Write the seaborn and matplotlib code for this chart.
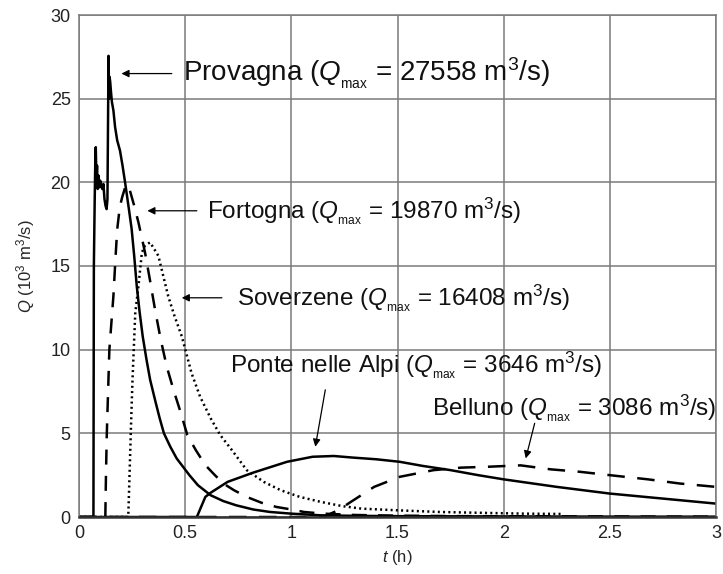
import numpy as np
import pandas as pd
import matplotlib
matplotlib.use("Agg")
import matplotlib.pyplot as plt
import seaborn as sns

# ---- data ----
t_prov = [0, 0.068, 0.070, 0.074, 0.077, 0.079, 0.082, 0.085, 0.088, 0.092, 0.096, 0.100, 0.105,
          0.110, 0.115, 0.120, 0.125, 0.130, 0.134, 0.139, 0.142, 0.144, 0.147, 0.150, 0.155,
          0.162, 0.170, 0.180, 0.193, 0.205, 0.217, 0.235, 0.248, 0.260, 0.272, 0.285, 0.300, 0.318,
          0.335, 0.36, 0.38, 0.40, 0.43, 0.46, 0.49, 0.52, 0.56, 0.62, 0.68, 0.74, 0.82, 0.90,
          1.0, 1.14, 1.3, 1.5, 1.8, 2.2, 2.6, 3.0]
q_prov = [0, 0, 15.0, 19.0, 21.5, 22.1, 20.2, 21.0, 19.6, 20.4, 19.7, 20.1, 19.8,
          19.6, 19.9, 19.0, 18.6, 18.4, 19.0, 27.56, 25.0, 26.3, 26.0, 25.5, 24.8,
          24.3, 23.3, 22.5, 21.9, 21.0, 20.0, 18.4, 17.2, 15.6, 13.8, 12.3, 10.8, 9.4,
          8.2, 6.9, 5.9, 5.0, 4.2, 3.5, 3.0, 2.5, 1.9, 1.3, 0.95, 0.7, 0.45, 0.3,
          0.2, 0.1, 0.07, 0.05, 0.04, 0.03, 0.02, 0.02]

t_fort = [0, 0.124, 0.127, 0.131, 0.143, 0.162, 0.172, 0.180, 0.192, 0.203, 0.215,
          0.225, 0.240, 0.260, 0.280, 0.311, 0.335, 0.358, 0.385, 0.413, 0.445,
          0.48, 0.51, 0.55, 0.595, 0.64, 0.68, 0.73, 0.79, 0.86, 0.93,
          1.0, 1.06, 1.15, 1.3, 1.5, 1.8, 2.2, 2.6, 3.0]
q_fort = [0, 0, 2.5, 5.0, 10.0, 13.2, 15.5, 17.2, 18.5, 19.1, 19.6,
          19.87, 19.5, 18.6, 17.6, 15.8, 14.1, 12.4, 10.6, 9.0, 7.6,
          6.2, 4.9, 4.0, 3.1, 2.5, 2.0, 1.6, 1.2, 0.85, 0.6,
          0.45, 0.3, 0.2, 0.12, 0.08, 0.05, 0.04, 0.03, 0.02]

t_sov = [0, 0.232, 0.238, 0.245, 0.252, 0.265, 0.280, 0.296, 0.310, 0.327, 0.335, 0.350,
         0.374, 0.395, 0.42, 0.45, 0.484, 0.53, 0.57, 0.62, 0.665, 0.72, 0.79, 0.87,
         0.95, 1.04, 1.14, 1.24, 1.33, 1.5, 1.7, 1.89, 2.1, 2.28]
q_sov = [0, 0, 2.5, 5.5, 8.2, 12.2, 13.8, 15.8, 16.2, 16.35, 16.41, 16.1,
         15.6, 14.5, 13.2, 12.0, 10.8, 8.6, 7.2, 5.9, 4.9, 4.0, 2.8, 2.1,
         1.6, 1.2, 0.9, 0.65, 0.5, 0.4, 0.3, 0.25, 0.2, 0.18]

t_ponte = [0, 0.555, 0.575, 0.595, 0.62, 0.70, 0.82, 0.98, 1.10, 1.20, 1.29, 1.40, 1.51,
           1.62, 1.75, 1.88, 2.0, 2.25, 2.5, 2.75, 3.0]
q_ponte = [0, 0, 0.6, 1.2, 1.45, 2.1, 2.65, 3.3, 3.6, 3.646, 3.55, 3.45, 3.3,
           3.05, 2.8, 2.5, 2.25, 1.8, 1.4, 1.1, 0.8]

t_bel = [0, 1.15, 1.22, 1.28, 1.39, 1.51, 1.67, 1.80, 1.92, 2.08, 2.22, 2.36, 2.5, 2.68, 2.83, 3.0]
q_bel = [0, 0, 0.4, 0.9, 1.8, 2.4, 2.8, 2.95, 3.0, 3.086, 2.85, 2.7, 2.5, 2.25, 2.0, 1.8]

x_ticks = [0, 0.5, 1, 1.5, 2, 2.5, 3]
x_tick_labels = ["0", "0.5", "1", "1.5", "2", "2.5", "3"]
y_ticks = [0, 5, 10, 15, 20, 25, 30]

labels = {
    "Provagna": r"Provagna ($Q_{_{\mathrm{max}}}$ = 27558 m$^3$/s)",
    "Fortogna": r"Fortogna ($Q_{_{\mathrm{max}}}$ = 19870 m$^3$/s)",
    "Soverzene": r"Soverzene ($Q_{_{\mathrm{max}}}$ = 16408 m$^3$/s)",
    "Ponte": r"Ponte nelle Alpi ($Q_{_{\mathrm{max}}}$ = 3646 m$^3$/s)",
    "Belluno": r"Belluno ($Q_{_{\mathrm{max}}}$ = 3086 m$^3$/s)",
}

# ---- style ----
sns.set_style("white")
plt.rcParams["font.family"] = ["Liberation Sans", "DejaVu Sans"]
plt.rcParams["mathtext.fontset"] = "custom"
plt.rcParams["mathtext.rm"] = "Liberation Sans"
plt.rcParams["mathtext.it"] = "Liberation Sans:italic"
plt.rcParams["mathtext.bf"] = "Liberation Sans:bold"

fig = plt.figure(figsize=(7.23, 5.74), dpi=100)
ax = fig.add_axes([79 / 723, 57 / 574, (716 - 79) / 723, (517 - 15) / 574])

lw = 1.8
sns.lineplot(x=t_prov, y=q_prov, ax=ax, color="black", lw=lw, sort=False, estimator=None)
sns.lineplot(x=t_fort, y=q_fort, ax=ax, color="black", lw=lw, sort=False, estimator=None).lines[-1].set_dashes((6, 4.5))
sns.lineplot(x=t_sov, y=q_sov, ax=ax, color="black", lw=lw, sort=False, estimator=None).lines[-1].set_dashes((0.8, 1.3))
sns.lineplot(x=t_ponte, y=q_ponte, ax=ax, color="black", lw=lw, sort=False, estimator=None)
sns.lineplot(x=t_bel, y=q_bel, ax=ax, color="black", lw=lw, sort=False, estimator=None).lines[-1].set_dashes((7, 5))

ax.set_xlim(0, 3)
ax.set_ylim(0, 30)
ax.set_xticks(x_ticks)
ax.set_xticklabels(x_tick_labels)
ax.set_yticks(y_ticks)
ax.grid(True, color="#7a7a7a", lw=1.1)
ax.set_axisbelow(True)
for s in ax.spines.values():
    s.set_color("#7a7a7a")
    s.set_linewidth(1.1)
ax.spines["bottom"].set_color("#333333")
ax.spines["bottom"].set_linewidth(1.8)
ax.tick_params(axis="both", labelsize=13, length=0, pad=6, colors="#222222")

ax.set_xlabel(r"$t$ (h)", fontsize=12, labelpad=4)
ax.set_ylabel(r"$Q$ (10$^3$ m$^3$/s)", fontsize=12, labelpad=10)

arrow = dict(arrowstyle="-|>", lw=0.9, color="black", mutation_scale=11, shrinkA=0, shrinkB=0)
ax.annotate("", xy=(0.200, 26.5), xytext=(0.437, 26.5), arrowprops=arrow)
ax.text(0.49, 26.5, labels["Provagna"], fontsize=20, va="center", ha="left", color="#111111")

ax.annotate("", xy=(0.322, 18.3), xytext=(0.555, 18.3), arrowprops=arrow)
ax.text(0.603, 18.3, labels["Fortogna"], fontsize=17.5, va="center", ha="left", color="#111111")

ax.annotate("", xy=(0.484, 13.1), xytext=(0.673, 13.1), arrowprops=arrow)
ax.text(0.744, 13.1, labels["Soverzene"], fontsize=17.5, va="center", ha="left", color="#111111")

ax.annotate("", xy=(1.113, 4.2), xytext=(1.16, 7.6), arrowprops=arrow)
ax.text(0.712, 9.1, labels["Ponte"], fontsize=17.5, va="center", ha="left", color="#111111")

ax.annotate("", xy=(2.104, 3.5), xytext=(2.146, 5.6), arrowprops=arrow)
ax.text(1.664, 6.5, labels["Belluno"], fontsize=17.5, va="center", ha="left", color="#111111")

fig.savefig("out.png", dpi=100)
